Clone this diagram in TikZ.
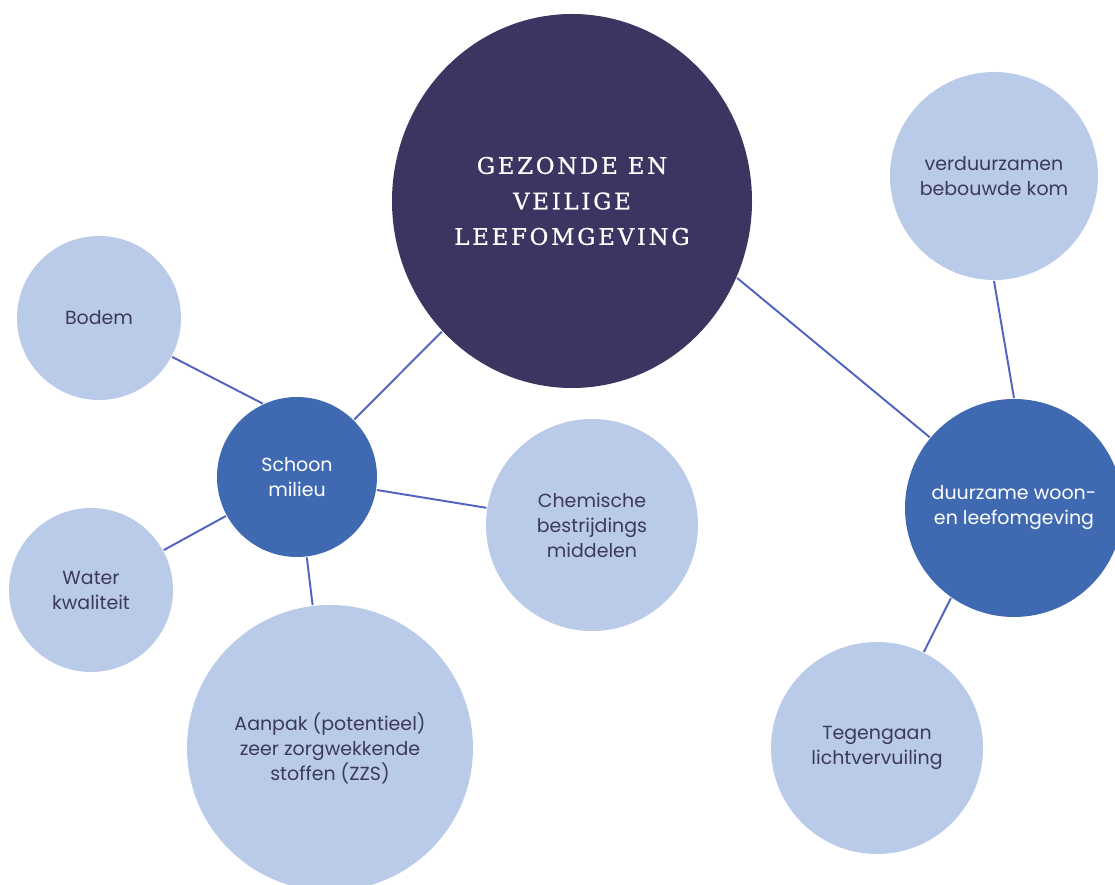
\documentclass[tikz,border=0pt]{standalone}
\usepackage{fontspec}
\usetikzlibrary{shapes.geometric}
\setmainfont{Poppins}
\newfontfamily\titelfont[LetterSpace=12,FakeBold=0.8]{DejaVu Serif}
\definecolor{nacht}{HTML}{3D3561}
\definecolor{kobalt}{HTML}{3F6AB1}
\definecolor{ijs}{HTML}{B9CBE9}
\definecolor{lijn}{HTML}{5162BF}
\definecolor{inkt}{HTML}{3B3A5A}

\begin{document}
\begin{tikzpicture}[x=0.2mm,y=-0.2mm,line width=1.1pt,
  bol/.style={circle,inner sep=0mm,minimum size=#1*0.4mm,align=center,font=\fontsize{10.8}{14.2}\selectfont},
  licht/.style={bol=#1,fill=ijs,text=inkt},
  donker/.style={bol=#1,fill=kobalt,text=white}]%1px = 0.2mm
\useasboundingbox (0,0) rectangle (1115,885);
\node[ellipse,inner sep=0mm,minimum width=72mm,minimum height=74.8mm,fill=nacht,text=white,align=center,font=\titelfont\fontsize{13}{20.2}\selectfont] (kern) at (572,201) {GEZONDE EN\\VEILIGE\\LEEFOMGEVING};
\node[donker=80] (schoon) at (297,477) {Schoon\\milieu};
\node[donker=109] (woon) at (1014,508) {duurzame woon-\\en leefomgeving};
\node[licht=82] (bodem) at (99,318) {Bodem};
\node[licht=82] (water) at (91,590) {Water\\kwaliteit};
\node[licht=106] (chemie) at (592,525) {Chemische\\bestrijdings\\middelen};
\node[licht=143] (zzs) at (330,748) {Aanpak (potentieel)\\zeer zorgwekkende\\stoffen (ZZS)};
\node[licht=104] (kom) at (994,176) {verduurzamen\\bebouwde kom};
\node[licht=106] (lichtv) at (877,748) {Tegengaan\\lichtvervuiling};
\draw[lijn] (kern) to (schoon);
\draw[lijn] (bodem.-28) to (schoon.115);
\draw[lijn] (schoon) to (chemie);
\draw[lijn] (schoon) to (water);
\draw[lijn] (schoon) to (zzs);
\draw[lijn] (kern.-25) to (woon.140);
\draw[lijn] (kom.-90) to (woon.90);
\draw[lijn] (woon.235) to (lichtv.64);
\end{tikzpicture}
\end{document}
